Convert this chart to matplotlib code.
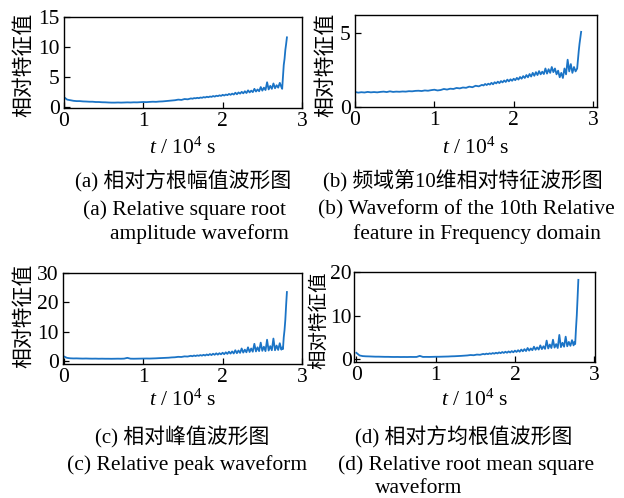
import matplotlib
matplotlib.use('Agg')
import matplotlib.pyplot as plt
import numpy as np

plt.rcParams['font.family'] = ['Liberation Serif', 'Noto Sans CJK SC']
plt.rcParams['mathtext.fontset'] = 'custom'
plt.rcParams['mathtext.rm'] = 'Liberation Serif'
plt.rcParams['mathtext.it'] = 'Liberation Serif:italic'

# ---------------- data ----------------
# time grid (x 10^4 s): coarse sampling up to 1.56, finer from 1.60 to 2.72
t_main = np.round(np.r_[np.arange(40) * 0.04, 1.60 + np.arange(57) * 0.02], 2)

a_main = [1.6, 1.2, 1.1, 1.0, 0.95, 0.95, 0.9, 0.88, 0.85, 0.85,
          0.8, 0.8, 0.76, 0.75, 0.72, 0.7, 0.7, 0.72, 0.7, 0.72,
          0.74, 0.72, 0.75, 0.74, 0.77, 0.8, 0.78, 0.82, 0.85, 0.83,
          0.88, 0.9, 0.95, 1.0, 1.05, 1.1, 1.2, 1.15, 1.3, 1.25,
          1.40, 1.35, 1.45, 1.42, 1.50, 1.44, 1.55, 1.50, 1.62, 1.55,
          1.68, 1.60, 1.72, 1.66, 1.80, 1.70, 1.85, 1.78, 1.92, 1.82,
          2.00, 1.88, 2.05, 1.95, 2.15, 2.00, 2.20, 2.05, 2.35, 2.10,
          2.40, 2.20, 2.50, 2.25, 2.60, 2.30, 2.75, 2.40, 2.70, 2.45,
          3.00, 2.55, 2.90, 2.60, 3.30, 2.70, 3.20, 2.80, 4.10, 2.90,
          3.50, 3.00, 3.90, 3.10, 3.60, 3.20, 4.00]
a_tail_t = [2.74, 2.75, 2.76, 2.77, 2.78, 2.79, 2.80, 2.81]
a_tail = [3.3, 3.0, 5.0, 7.0, 8.0, 9.5, 10.5, 11.6]

b_main = [1.0, 0.95, 0.98, 0.96, 1.0, 0.97, 0.99, 0.97, 1.0, 1.02,
          0.99, 1.04, 1.0, 1.02, 1.01, 1.03, 1.02, 1.05, 1.04, 1.07,
          1.08, 1.06, 1.1, 1.08, 1.12, 1.15, 1.1, 1.13, 1.2, 1.16,
          1.22, 1.2, 1.27, 1.24, 1.3, 1.28, 1.36, 1.32, 1.42, 1.38,
          1.48, 1.44, 1.54, 1.47, 1.56, 1.50, 1.62, 1.52, 1.66, 1.58,
          1.70, 1.60, 1.74, 1.65, 1.78, 1.68, 1.84, 1.72, 1.86, 1.76,
          1.90, 1.80, 1.96, 1.84, 2.02, 1.90, 2.08, 1.95, 2.15, 2.00,
          2.22, 2.05, 2.30, 2.10, 2.35, 2.15, 2.42, 2.20, 2.38, 2.22,
          2.60, 2.25, 2.55, 2.30, 2.70, 2.35, 2.60, 2.20, 2.45, 2.00,
          2.30, 1.95, 2.60, 2.20, 3.20, 2.40, 2.90]
b_tail_t = [2.74, 2.76, 2.78, 2.80, 2.81, 2.82, 2.83, 2.84, 2.85]
b_tail = [2.3, 2.7, 2.4, 2.6, 3.2, 3.8, 4.3, 4.7, 5.1]

c_main = [1.5, 1.0, 0.85, 0.8, 0.82, 0.78, 0.75, 0.78, 0.74, 0.72,
          0.74, 0.7, 0.72, 0.7, 0.7, 0.68, 0.7, 0.72, 0.7, 0.74,
          1.0, 0.72, 0.7, 0.72, 0.74, 0.76, 0.78, 0.76, 0.8, 0.84,
          0.9, 0.95, 1.0, 1.05, 1.15, 1.2, 1.35, 1.3, 1.5, 1.45,
          1.70, 1.55, 1.80, 1.62, 1.85, 1.70, 1.95, 1.75, 2.05, 1.80,
          2.15, 1.90, 2.30, 1.95, 2.40, 2.05, 2.55, 2.10, 2.60, 2.20,
          2.75, 2.25, 2.90, 2.35, 3.10, 2.45, 3.20, 2.50, 3.60, 2.60,
          3.50, 2.70, 4.20, 2.80, 3.80, 2.90, 4.60, 3.00, 4.20, 3.10,
          5.80, 3.20, 4.60, 3.30, 6.20, 3.40, 4.80, 3.30, 7.20, 3.50,
          5.00, 3.60, 7.60, 3.60, 5.20, 3.70, 6.00]
c_tail_t = [2.74, 2.75, 2.76, 2.77, 2.78, 2.79, 2.80, 2.81]
c_tail = [3.8, 4.5, 4.0, 8.0, 10.5, 14.0, 19.0, 23.5]

d_main = [1.5, 0.9, 0.75, 0.7, 0.68, 0.65, 0.62, 0.62, 0.6, 0.58,
          0.58, 0.56, 0.55, 0.56, 0.54, 0.55, 0.54, 0.56, 0.55, 0.56,
          0.8, 0.56, 0.57, 0.56, 0.58, 0.6, 0.6, 0.62, 0.64, 0.66,
          0.7, 0.72, 0.76, 0.8, 0.85, 0.9, 1.0, 0.95, 1.1, 1.05,
          1.25, 1.15, 1.32, 1.20, 1.38, 1.25, 1.45, 1.30, 1.52, 1.36,
          1.60, 1.42, 1.68, 1.48, 1.75, 1.52, 1.82, 1.58, 1.90, 1.62,
          2.00, 1.70, 2.10, 1.75, 2.25, 1.85, 2.35, 1.90, 2.60, 2.00,
          2.50, 2.10, 2.90, 2.20, 2.75, 2.25, 3.20, 2.35, 3.00, 2.40,
          4.30, 2.50, 3.40, 2.60, 4.50, 2.70, 3.50, 2.60, 5.60, 2.80,
          3.80, 2.90, 5.20, 3.00, 4.00, 3.10, 4.40]
d_tail_t = [2.74, 2.75, 2.76, 2.77, 2.78, 2.79, 2.80]
d_tail = [3.2, 4.0, 3.5, 7.0, 10.0, 14.0, 18.2]

x_ticks = [0, 1, 2, 3]
y_ticks_a = [0, 5, 10, 15]
y_ticks_b = [0, 5]
y_ticks_c = [0, 10, 20, 30]
y_ticks_d = [0, 10, 20]

ylabel_text = '相对特征值'
xlabel_text = r'$\mathit{t}$ / 10$^4$ s'

captions_cn = ['(a) 相对方根幅值波形图', '(b) 频域第10维相对特征波形图',
               '(c) 相对峰值波形图', '(d) 相对方均根值波形图']
captions_en = [['(a) Relative square root', 'amplitude waveform'],
               ['(b) Waveform of the 10th Relative', 'feature in Frequency domain'],
               ['(c) Relative peak waveform'],
               ['(d) Relative root mean square', 'waveform']]

# ---------------- figure ----------------
W, H = 624, 498
fig = plt.figure(figsize=(W / 100, H / 100), dpi=100)

def rect(l, r, top, bot):
    return [l / W, 1 - bot / H, (r - l) / W, (bot - top) / H]

panels = [
    dict(rect=rect(64, 302, 17, 108), tm=a_main, tt=a_tail_t, tv=a_tail,
         ylim=(-0.2, 15), yt=y_ticks_a, xlim=(0, 3), pad=3),
    dict(rect=rect(355, 597, 15, 107), tm=b_main, tt=b_tail_t, tv=b_tail,
         ylim=(-0.03, 6.25), yt=y_ticks_b, xlim=(0, 3.05), pad=3),
    dict(rect=rect(63, 302, 273, 364), tm=c_main, tt=c_tail_t, tv=c_tail,
         ylim=(-1.1, 30), yt=y_ticks_c, xlim=(-0.01, 3.0), pad=3),
    dict(rect=rect(354, 595, 272, 362), tm=d_main, tt=d_tail_t, tv=d_tail,
         ylim=(-0.6, 20), yt=y_ticks_d, xlim=(-0.03, 3.01), pad=1.5),
]

line_color = '#1b74c6'
ylabel_pos = [(23, 65), (325, 65), (23, 316), (319, 320)]
ylabel_size = [15, 15, 15, 14]
xlabel_y = [148, 148, 400, 400]

for i, p in enumerate(panels):
    ax = fig.add_axes(p['rect'])
    t = list(t_main) + p['tt']
    v = list(p['tm']) + p['tv']
    ax.plot(t, v, color=line_color, lw=1.3)
    ax.set_xlim(*p['xlim'])
    ax.set_ylim(*p['ylim'])
    ax.set_xticks(x_ticks)
    ax.set_yticks(p['yt'])
    ax.tick_params(direction='in', length=4, width=0.9, labelsize=15.5,
                   top=False, right=False)
    ax.tick_params(axis='y', pad=p['pad'])
    ax.tick_params(axis='x', pad=3)
    for s in ax.spines.values():
        s.set_linewidth(1.0)
    x0, y0, w, h = p['rect']
    fig.text(x0 + w / 2, 1 - xlabel_y[i] / H, xlabel_text, fontsize=15.5,
             ha='center', va='center')
    fig.text(ylabel_pos[i][0] / W, 1 - ylabel_pos[i][1] / H, ylabel_text,
             rotation=90, fontsize=ylabel_size[i], ha='center', va='center',
             family=['Noto Sans CJK SC'])

# captions (left x, centre y in pixels)
cn_pos = [(75, 181), (323, 181), (95, 437), (355, 437)]
en_pos = [[(83, 210), (110, 234)], [(318, 210), (353, 234)],
          [(67, 465)], [(338, 465), (375, 488)]]
for i in range(4):
    fig.text(cn_pos[i][0] / W, 1 - cn_pos[i][1] / H, captions_cn[i],
             fontsize=15, ha='left', va='center')
    for (px, py), s in zip(en_pos[i], captions_en[i]):
        fig.text(px / W, 1 - py / H, s, fontsize=15.5, ha='left', va='center')

fig.savefig('out.png', dpi=100)
